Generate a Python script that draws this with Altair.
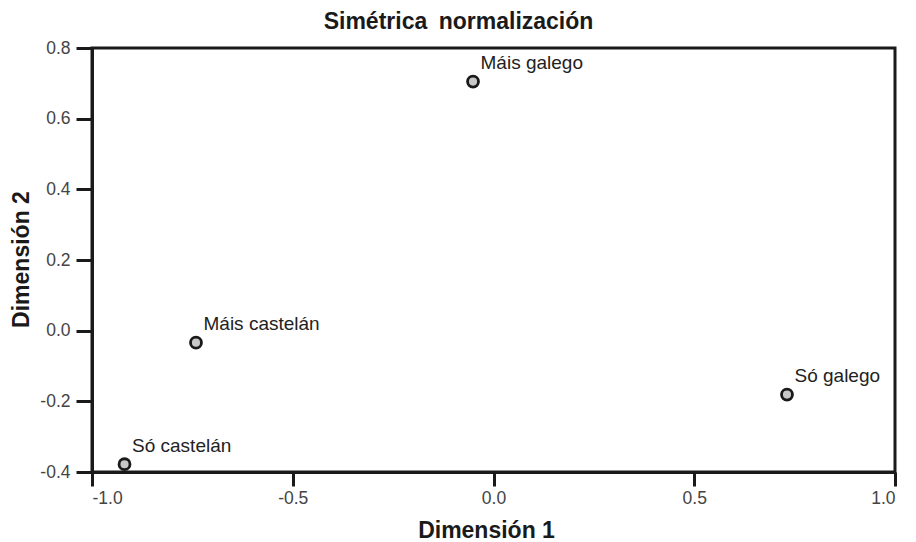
import altair as alt
import pandas as pd

# Category coordinates on the two correspondence-analysis dimensions
categories = ["Máis galego", "Máis castelán", "Só castelán", "Só galego"]
dim1 = [-0.051, -0.741, -0.919, 0.731]
dim2 = [0.705, -0.034, -0.378, -0.181]

x_ticks = [-1.0, -0.5, 0.0, 0.5, 1.0]
y_ticks = [-0.4, -0.2, 0.0, 0.2, 0.4, 0.6, 0.8]

df = pd.DataFrame({"cat": categories, "d1": dim1, "d2": dim2})

font = "Liberation Sans"
ink = "#1a1a1a"
# plain hyphen for negative tick labels
tick_label = "replace(format(datum.value, '.1f'), '\u2212', '-')"

x_enc = alt.X(
    "d1:Q",
    scale=alt.Scale(domain=[-1.0, 1.0], nice=False, zero=False),
    axis=alt.Axis(
        title="Dimensión 1", values=x_ticks, labelExpr=tick_label,
        titleFontSize=23, titleFont=font, titleFontWeight="bold", titleColor=ink,
        titleX=394, titleY=65, titleBaseline="alphabetic", titleAlign="center",
        labelFontSize=17.5, labelFont=font, labelColor="#444",
        labelPadding=3, tickSize=14, tickWidth=3, tickColor=ink,
        domainColor=ink, domainWidth=3, grid=False,
    ),
)
y_enc = alt.Y(
    "d2:Q",
    scale=alt.Scale(domain=[-0.4, 0.8], nice=False, zero=False),
    axis=alt.Axis(
        title="Dimensión 2", values=y_ticks, labelExpr=tick_label,
        titleFontSize=23, titleFont=font, titleFontWeight="bold", titleColor=ink,
        titleX=-64, titleY=211, titleAngle=270, titleBaseline="alphabetic",
        titleAlign="center",
        labelFontSize=17.5, labelFont=font, labelColor="#444",
        labelPadding=6, tickSize=16, tickWidth=3, tickColor=ink,
        domainColor=ink, domainWidth=3, grid=False,
    ),
)

points = alt.Chart(df).mark_point(
    filled=True, size=120, fill="#c8c8c8", stroke=ink, strokeWidth=2.8, opacity=1
).encode(x=x_enc, y=y_enc)

labels = alt.Chart(df).mark_text(
    align="left", baseline="alphabetic", dx=7.5, dy=-12.5,
    fontSize=19, font=font, color="#222",
).encode(x="d1:Q", y="d2:Q", text="cat:N")

chart = (
    alt.layer(points, labels)
    .properties(
        width=803,
        height=424,
        title=alt.TitleParams(
            "Simétrica\u2002normalización", fontSize=23, font=font,
            fontWeight="bold", color=ink, offset=5, anchor="middle", dx=-35,
        ),
        autosize=alt.AutoSizeParams(type="none"),
        padding={"left": 92, "top": 48, "right": 21, "bottom": 70},
        background="white",
    )
    .configure_view(stroke=ink, strokeWidth=3)
)

chart.save("out.html", embed_options={"renderer": "svg", "actions": False})
